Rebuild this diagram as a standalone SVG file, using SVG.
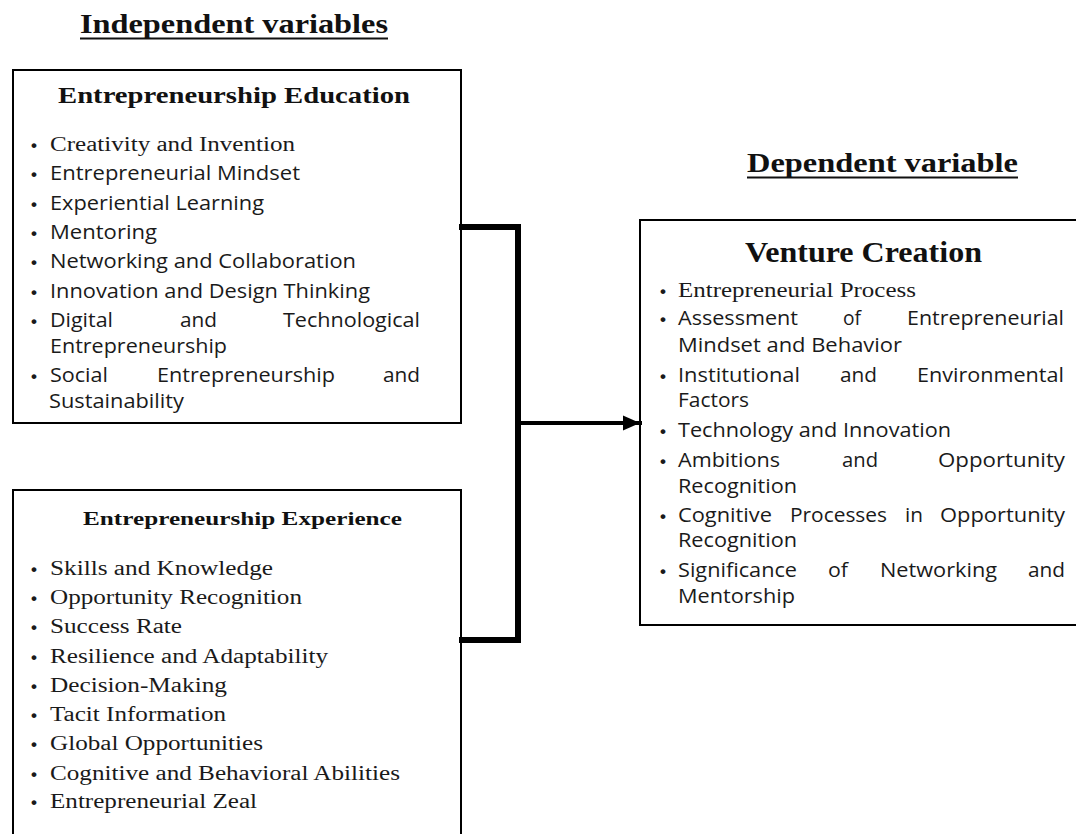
<svg xmlns="http://www.w3.org/2000/svg" width="1076" height="834" viewBox="0 0 1076 834">
<style>
.box{fill:#fff;stroke:#000;stroke-width:2}
.hd{font-family:"Liberation Serif",serif;font-weight:bold;fill:#111}
.sr{font-family:"Liberation Serif",serif;font-size:20px;fill:#1a1a1a}
.sn{font-family:"Open Sans","Noto Sans",sans-serif;font-size:19.5px;fill:#1a1a1a}
.bl{font-family:"Liberation Sans",sans-serif;font-size:17px;font-weight:bold;fill:#1a1a1a}
.conn{fill:none;stroke:#000;stroke-linecap:square}
</style>
<defs>
<marker id="arr" markerWidth="4.25" markerHeight="3.8" refX="4.25" refY="1.9" orient="auto" markerUnits="strokeWidth">
<path d="M0,0 L4.25,1.9 L0,3.8 Z" fill="#000"/>
</marker>
</defs>
<rect width="1076" height="834" fill="#fff"/>

<g id="title-independent">
<text class="hd" x="80" y="33" font-size="27" textLength="308" lengthAdjust="spacingAndGlyphs">Independent variables</text>
<line x1="80" y1="38.5" x2="388" y2="38.5" stroke="#111" stroke-width="2"/>
</g>

<g id="title-dependent">
<text class="hd" x="747" y="172" font-size="27" textLength="271" lengthAdjust="spacingAndGlyphs">Dependent variable</text>
<line x1="747" y1="177.5" x2="1018" y2="177.5" stroke="#111" stroke-width="2"/>
</g>

<g id="node-education">
<rect class="box" x="13" y="70" width="448" height="353"/>
<text class="hd" x="58" y="103" font-size="23" textLength="352" lengthAdjust="spacingAndGlyphs">Entrepreneurship Education</text>
<text class="bl" x="31" y="151">•</text>
<text class="sr" x="50" y="151" textLength="245" lengthAdjust="spacingAndGlyphs">Creativity and Invention</text>
<text class="bl" x="31" y="180">•</text>
<text class="sn" x="50" y="180" textLength="250" lengthAdjust="spacingAndGlyphs">Entrepreneurial Mindset</text>
<text class="bl" x="31" y="210">•</text>
<text class="sn" x="50" y="210" textLength="214" lengthAdjust="spacingAndGlyphs">Experiential Learning</text>
<text class="bl" x="31" y="239">•</text>
<text class="sn" x="50" y="239" textLength="107" lengthAdjust="spacingAndGlyphs">Mentoring</text>
<text class="bl" x="31" y="268">•</text>
<text class="sn" x="50" y="268" textLength="306" lengthAdjust="spacingAndGlyphs">Networking and Collaboration</text>
<text class="bl" x="31" y="298">•</text>
<text class="sn" x="50" y="298" textLength="320" lengthAdjust="spacingAndGlyphs">Innovation and Design Thinking</text>
<text class="bl" x="31" y="327">•</text>
<text class="sn" x="50" y="327" textLength="63" lengthAdjust="spacingAndGlyphs">Digital</text>
<text class="sn" x="180" y="327" textLength="37" lengthAdjust="spacingAndGlyphs">and</text>
<text class="sn" x="283" y="327" textLength="137" lengthAdjust="spacingAndGlyphs">Technological</text>
<text class="sn" x="50" y="353" textLength="177" lengthAdjust="spacingAndGlyphs">Entrepreneurship</text>
<text class="bl" x="31" y="382">•</text>
<text class="sn" x="50" y="382" textLength="58" lengthAdjust="spacingAndGlyphs">Social</text>
<text class="sn" x="157" y="382" textLength="178" lengthAdjust="spacingAndGlyphs">Entrepreneurship</text>
<text class="sn" x="383" y="382" textLength="37" lengthAdjust="spacingAndGlyphs">and</text>
<text class="sn" x="49" y="408" textLength="135" lengthAdjust="spacingAndGlyphs">Sustainability</text>
</g>

<g id="node-experience">
<rect class="box" x="13" y="490" width="448" height="360"/>
<text class="hd" x="83" y="525" font-size="19.5" textLength="319" lengthAdjust="spacingAndGlyphs">Entrepreneurship Experience</text>
<text class="bl" x="31" y="575">•</text>
<text class="sr" x="50" y="575" textLength="223" lengthAdjust="spacingAndGlyphs">Skills and Knowledge</text>
<text class="bl" x="31" y="604">•</text>
<text class="sr" x="50" y="604" textLength="252" lengthAdjust="spacingAndGlyphs">Opportunity Recognition</text>
<text class="bl" x="31" y="633">•</text>
<text class="sr" x="50" y="633" textLength="132" lengthAdjust="spacingAndGlyphs">Success Rate</text>
<text class="bl" x="31" y="663">•</text>
<text class="sr" x="50" y="663" textLength="278" lengthAdjust="spacingAndGlyphs">Resilience and Adaptability</text>
<text class="bl" x="31" y="692">•</text>
<text class="sr" x="50" y="692" textLength="177" lengthAdjust="spacingAndGlyphs">Decision-Making</text>
<text class="bl" x="31" y="721">•</text>
<text class="sr" x="50" y="721" textLength="176" lengthAdjust="spacingAndGlyphs">Tacit Information</text>
<text class="bl" x="31" y="750">•</text>
<text class="sr" x="50" y="750" textLength="213" lengthAdjust="spacingAndGlyphs">Global Opportunities</text>
<text class="bl" x="31" y="780">•</text>
<text class="sr" x="50" y="780" textLength="350" lengthAdjust="spacingAndGlyphs">Cognitive and Behavioral Abilities</text>
<text class="bl" x="31" y="808">•</text>
<text class="sr" x="50" y="808" textLength="207" lengthAdjust="spacingAndGlyphs">Entrepreneurial Zeal</text>
</g>

<g id="node-venture">
<rect class="box" x="640" y="220" width="450" height="405" stroke-width="2.5"/>
<text class="hd" x="745" y="262" font-size="29" textLength="237" lengthAdjust="spacingAndGlyphs">Venture Creation</text>
<text class="bl" x="660" y="297">•</text>
<text class="sr" x="678" y="297" textLength="238" lengthAdjust="spacingAndGlyphs">Entrepreneurial Process</text>
<text class="bl" x="660" y="325">•</text>
<text class="sn" x="678" y="325" textLength="120" lengthAdjust="spacingAndGlyphs">Assessment</text>
<text class="sn" x="843" y="325" textLength="18" lengthAdjust="spacingAndGlyphs">of</text>
<text class="sn" x="907" y="325" textLength="157" lengthAdjust="spacingAndGlyphs">Entrepreneurial</text>
<text class="sn" x="678" y="352" textLength="224" lengthAdjust="spacingAndGlyphs">Mindset and Behavior</text>
<text class="bl" x="660" y="382">•</text>
<text class="sn" x="678" y="382" textLength="122" lengthAdjust="spacingAndGlyphs">Institutional</text>
<text class="sn" x="840" y="382" textLength="37" lengthAdjust="spacingAndGlyphs">and</text>
<text class="sn" x="917" y="382" textLength="147" lengthAdjust="spacingAndGlyphs">Environmental</text>
<text class="sn" x="678" y="407" textLength="71" lengthAdjust="spacingAndGlyphs">Factors</text>
<text class="bl" x="660" y="437">•</text>
<text class="sn" x="678" y="437" textLength="273" lengthAdjust="spacingAndGlyphs">Technology and Innovation</text>
<text class="bl" x="660" y="467">•</text>
<text class="sn" x="678" y="467" textLength="102" lengthAdjust="spacingAndGlyphs">Ambitions</text>
<text class="sn" x="842" y="467" textLength="36" lengthAdjust="spacingAndGlyphs">and</text>
<text class="sn" x="938" y="467" textLength="127" lengthAdjust="spacingAndGlyphs">Opportunity</text>
<text class="sn" x="678" y="493" textLength="119" lengthAdjust="spacingAndGlyphs">Recognition</text>
<text class="bl" x="660" y="522">•</text>
<text class="sn" x="678" y="522" textLength="94" lengthAdjust="spacingAndGlyphs">Cognitive</text>
<text class="sn" x="790" y="522" textLength="97" lengthAdjust="spacingAndGlyphs">Processes</text>
<text class="sn" x="905" y="522" textLength="18" lengthAdjust="spacingAndGlyphs">in</text>
<text class="sn" x="940" y="522" textLength="125" lengthAdjust="spacingAndGlyphs">Opportunity</text>
<text class="sn" x="678" y="547" textLength="119" lengthAdjust="spacingAndGlyphs">Recognition</text>
<text class="bl" x="660" y="577">•</text>
<text class="sn" x="678" y="577" textLength="119" lengthAdjust="spacingAndGlyphs">Significance</text>
<text class="sn" x="828" y="577" textLength="20" lengthAdjust="spacingAndGlyphs">of</text>
<text class="sn" x="880" y="577" textLength="117" lengthAdjust="spacingAndGlyphs">Networking</text>
<text class="sn" x="1028" y="577" textLength="37" lengthAdjust="spacingAndGlyphs">and</text>
<text class="sn" x="678" y="603" textLength="117" lengthAdjust="spacingAndGlyphs">Mentorship</text>
</g>

<g id="connectors">
<path class="conn" d="M462,227 H518 V640 H462" stroke-width="6"/>
<line class="conn" x1="518" y1="423" x2="640" y2="423" stroke-width="4" stroke-linecap="butt" marker-end="url(#arr)"/>
</g>
</svg>
